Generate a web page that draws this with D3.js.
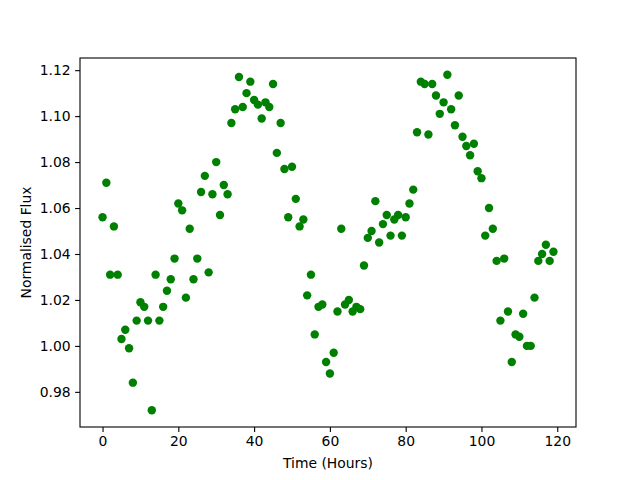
<!DOCTYPE html>
<html>
<head>
<meta charset="utf-8">
<script src="https://cdn.jsdelivr.net/npm/d3@7"></script>
<style>
  body { margin: 0; background: #fff; }
  svg text { font-family: "DejaVu Sans", sans-serif; font-size: 13.9px; fill: #000; }
</style>
</head>
<body>
<svg id="chart" width="640" height="480"></svg>
<script>
// hours 0..119, one reading per hour
var hours = d3.range(0, 120);
var flux = [
  1.056, 1.071, 1.031, 1.052, 1.031, 1.003, 1.007, 0.999, 0.984, 1.011,
  1.019, 1.017, 1.011, 0.972, 1.031, 1.011, 1.017, 1.024, 1.029, 1.038,
  1.062, 1.059, 1.021, 1.051, 1.029, 1.038, 1.067, 1.074, 1.032, 1.066,
  1.080, 1.057, 1.070, 1.066, 1.097, 1.103, 1.117, 1.104, 1.110, 1.115,
  1.107, 1.105, 1.099, 1.106, 1.104, 1.114, 1.084, 1.097, 1.077, 1.056,
  1.078, 1.064, 1.052, 1.055, 1.022, 1.031, 1.005, 1.017, 1.018, 0.993,
  0.988, 0.997, 1.015, 1.051, 1.018, 1.020, 1.015, 1.017, 1.016, 1.035,
  1.047, 1.050, 1.063, 1.045, 1.053, 1.057, 1.048, 1.055, 1.057, 1.048,
  1.056, 1.062, 1.068, 1.093, 1.115, 1.114, 1.092, 1.114, 1.109, 1.101,
  1.106, 1.118, 1.103, 1.096, 1.109, 1.091, 1.087, 1.083, 1.088, 1.076,
  1.073, 1.048, 1.060, 1.051, 1.037, 1.011, 1.038, 1.015, 0.993, 1.005,
  1.004, 1.014, 1.000, 1.000, 1.021, 1.037, 1.040, 1.044, 1.037, 1.041
];
var xTicks = [0, 20, 40, 60, 80, 100, 120];
var yTicks = [0.98, 1.00, 1.02, 1.04, 1.06, 1.08, 1.10, 1.12];

// plot area box (window.top is reserved, so use other names)
var plotL = 80, plotR = 576, plotT = 58, plotB = 427;
var svg = d3.select("#chart");

// matplotlib style 5% margins
var xExt = d3.extent(hours), yExt = d3.extent(flux);
var xPad = (xExt[1] - xExt[0]) * 0.05, yPad = (yExt[1] - yExt[0]) * 0.05;

var x = d3.scaleLinear().domain([xExt[0] - xPad, xExt[1] + xPad]).range([plotL, plotR]);
var y = d3.scaleLinear().domain([yExt[0] - yPad, yExt[1] + yPad]).range([plotB, plotT]);

svg.append("g")
  .selectAll("circle")
  .data(hours)
  .enter().append("circle")
  .attr("cx", (d, i) => x(d))
  .attr("cy", (d, i) => y(flux[i]))
  .attr("r", 4.2)
  .style("fill", "#008000");

var xAxis = svg.append("g")
  .attr("transform", "translate(0," + plotB + ")")
  .call(d3.axisBottom(x).tickValues(xTicks).tickSize(4.9).tickPadding(4.5).tickFormat(d3.format("d")));
var yAxis = svg.append("g")
  .attr("transform", "translate(" + plotL + ",0)")
  .call(d3.axisLeft(y).tickValues(yTicks).tickSize(4.9).tickPadding(4.5).tickFormat(d3.format(".2f")));

[xAxis, yAxis].forEach(function (g) {
  g.select(".domain").remove();
  g.selectAll("line").attr("stroke", "#000").attr("stroke-width", 1.1);
  g.selectAll("text").attr("font-family", "DejaVu Sans").attr("font-size", 13.9).attr("fill", "#000");
});

// frame
svg.append("rect")
  .attr("x", plotL).attr("y", plotT)
  .attr("width", plotR - plotL).attr("height", plotB - plotT)
  .attr("fill", "none").attr("stroke", "#000").attr("stroke-width", 1.1);

svg.append("text")
  .attr("x", (plotL + plotR) / 2).attr("y", 468)
  .attr("text-anchor", "middle")
  .text("Time (Hours)");

svg.append("text")
  .attr("transform", "translate(31," + (plotT + plotB) / 2 + ") rotate(-90)")
  .attr("text-anchor", "middle")
  .text("Normalised Flux");
</script>
</body>
</html>
